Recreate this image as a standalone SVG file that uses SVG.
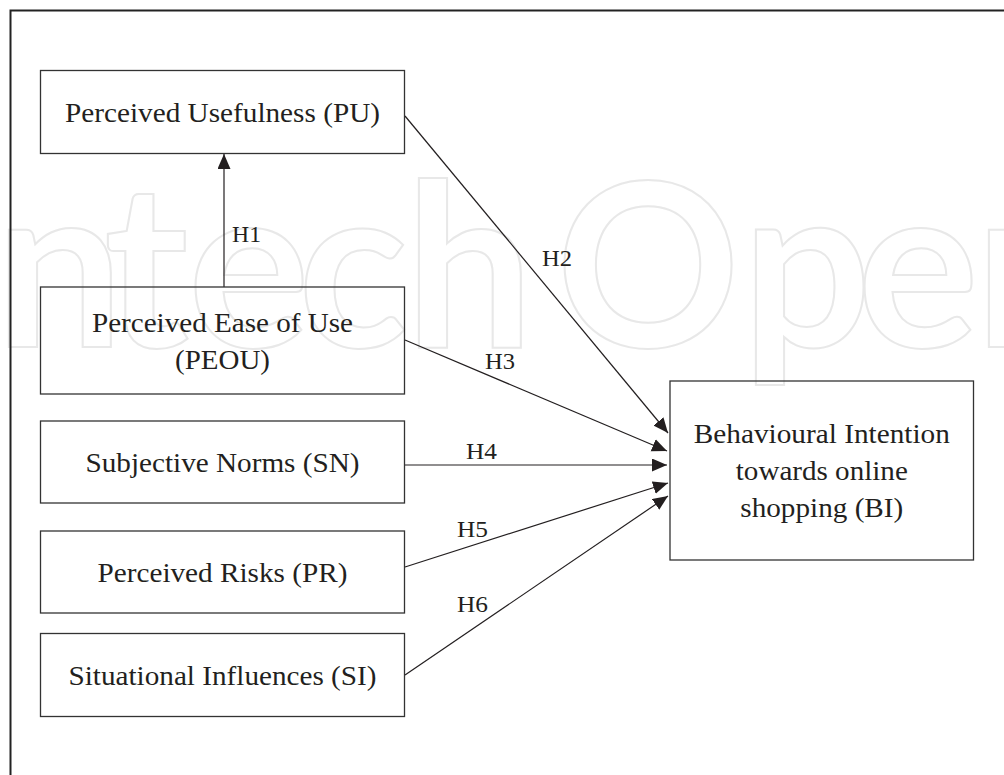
<svg xmlns="http://www.w3.org/2000/svg" width="1004" height="775" viewBox="0 0 1004 775">
<style>
.box{fill:none;stroke:#333;stroke-width:1.3}
.t{font-size:27.5px;fill:#231f20;text-anchor:middle}
.lbl{font-size:24px;fill:#231f20}
.con{stroke:#231f20;stroke-width:1.2;fill:none;marker-end:url(#ah)}
.wm{font-weight:bold;font-size:228px;fill:none;stroke:#e8e8e8;stroke-width:2}
</style>
<defs>
<marker id="ah" markerUnits="userSpaceOnUse" markerWidth="16" markerHeight="14" refX="15" refY="6.5" orient="auto" viewBox="0 0 16 14">
<path d="M0,0 L15,6.5 L0,13 z" fill="#231f20"/>
</marker>
</defs>
<rect width="1004" height="775" fill="#fff"/>
<text class="wm" font-family="Lato, 'Open Sans', sans-serif" x="-70 -5 104 188 298 405 556 742 857 975" y="347">IntechOpen</text>
<rect x="10.5" y="10.5" width="1010" height="800" fill="none" stroke="#222" stroke-width="2"/>
<g id="connectors" font-family="'Liberation Serif', 'DejaVu Serif', serif">
<line class="con" x1="224" y1="287" x2="224" y2="154"/>
<line class="con" x1="405" y1="116" x2="668" y2="433"/>
<line class="con" x1="405" y1="340" x2="667" y2="451"/>
<line class="con" x1="405" y1="465" x2="667" y2="465"/>
<line class="con" x1="405" y1="567" x2="668" y2="483"/>
<line class="con" x1="405" y1="675" x2="668" y2="496"/>
<text class="lbl" x="232" y="242" textLength="29" lengthAdjust="spacingAndGlyphs">H1</text>
<text class="lbl" x="542" y="266" textLength="30" lengthAdjust="spacingAndGlyphs">H2</text>
<text class="lbl" x="485" y="369" textLength="30" lengthAdjust="spacingAndGlyphs">H3</text>
<text class="lbl" x="466" y="459" textLength="31" lengthAdjust="spacingAndGlyphs">H4</text>
<text class="lbl" x="457" y="537" textLength="31" lengthAdjust="spacingAndGlyphs">H5</text>
<text class="lbl" x="457" y="612" textLength="31" lengthAdjust="spacingAndGlyphs">H6</text>
</g>
<g font-family="'Liberation Serif', 'DejaVu Serif', serif">
<g id="PU">
<rect class="box" x="40.5" y="70.5" width="364" height="83"/>
<text class="t" x="222.5" y="121.5" textLength="315" lengthAdjust="spacingAndGlyphs">Perceived Usefulness (PU)</text>
</g>
<g id="PEOU">
<rect class="box" x="40.5" y="287" width="364" height="107"/>
<text class="t" x="222.5" y="331.5" textLength="261" lengthAdjust="spacingAndGlyphs">Perceived Ease of Use</text>
<text class="t" x="222.5" y="368.5" textLength="95" lengthAdjust="spacingAndGlyphs">(PEOU)</text>
</g>
<g id="SN">
<rect class="box" x="40.5" y="421" width="364" height="82"/>
<text class="t" x="222.5" y="471.5" textLength="274" lengthAdjust="spacingAndGlyphs">Subjective Norms (SN)</text>
</g>
<g id="PR">
<rect class="box" x="40.5" y="531" width="364" height="82"/>
<text class="t" x="222.5" y="581.5" textLength="250" lengthAdjust="spacingAndGlyphs">Perceived Risks (PR)</text>
</g>
<g id="SI">
<rect class="box" x="40.5" y="633.5" width="364" height="83"/>
<text class="t" x="222.5" y="684.5" textLength="308" lengthAdjust="spacingAndGlyphs">Situational Influences (SI)</text>
</g>
<g id="BI">
<rect class="box" x="670" y="381" width="303.5" height="179"/>
<text class="t" x="821.8" y="443" textLength="256" lengthAdjust="spacingAndGlyphs">Behavioural Intention</text>
<text class="t" x="821.8" y="480" textLength="172" lengthAdjust="spacingAndGlyphs">towards online</text>
<text class="t" x="821.8" y="517" textLength="163" lengthAdjust="spacingAndGlyphs">shopping (BI)</text>
</g>
</g>
</svg>
